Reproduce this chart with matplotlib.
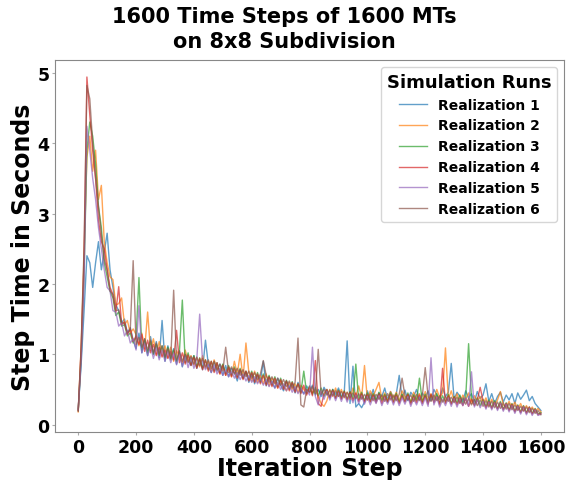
import matplotlib
matplotlib.use('Agg')
import matplotlib.pyplot as plt

# iteration steps (sampled every 10 steps)
steps = list(range(0, 1601, 10))

labels = ['Realization 1', 'Realization 2', 'Realization 3',
          'Realization 4', 'Realization 5', 'Realization 6']

run1 = [0.22, 0.85, 1.6, 2.4, 2.3, 1.95, 2.3, 2.6, 2.2, 2.45,
        2.72, 2.2, 1.95, 1.7, 1.62, 1.45, 1.5, 1.3, 1.38, 1.2,
        1.08, 1.3, 1.02, 1.22, 0.98, 1.25, 1.0, 1.18, 0.95, 1.48,
        0.9, 1.12, 0.95, 1.08, 0.86, 1.05, 0.82, 1.0, 0.92, 0.84,
        0.98, 0.8, 0.92, 0.78, 1.2, 0.85, 0.74, 0.9, 0.76, 0.86,
        0.7, 0.84, 0.68, 0.8, 0.74, 0.62, 0.78, 0.66, 0.75, 0.6,
        0.72, 0.58, 0.7, 0.62, 0.9, 0.55, 0.68, 0.6, 0.52, 0.66,
        0.56, 0.48, 0.62, 0.52, 0.58, 0.45, 0.6, 0.5, 0.44, 0.55,
        0.47, 0.56, 0.42, 0.5, 0.4, 0.53, 0.45, 0.38, 0.5, 0.43,
        0.52, 0.4, 0.46, 1.19, 0.3, 0.83, 0.25, 0.3, 0.24, 0.32,
        0.48, 0.36, 0.5, 0.33, 0.45, 0.4, 0.52, 0.35, 0.47, 0.38,
        0.44, 0.7, 0.38, 0.49, 0.34, 0.46, 0.4, 0.5, 0.36, 0.45,
        0.38, 0.48, 0.34, 0.5, 0.42, 0.36, 0.52, 0.4, 0.46, 0.87,
        0.36, 0.46, 0.4, 0.33, 0.48, 0.38, 0.44, 0.32, 0.47, 0.37,
        0.42, 0.58, 0.33, 0.44, 0.3, 0.4, 0.46, 0.32, 0.42, 0.35,
        0.44, 0.3, 0.45, 0.36, 0.42, 0.49, 0.34, 0.4, 0.3, 0.25,
        0.2]

run2 = [0.18, 1.1, 2.4, 3.8, 4.1, 3.6, 3.9, 3.2, 3.4, 2.6,
        2.3, 2.1, 2.06, 1.7, 1.72, 1.8, 1.42, 1.48, 1.3, 1.36,
        1.28, 1.12, 1.3, 1.08, 1.6, 1.05, 1.22, 1.0, 1.18, 0.98,
        1.12, 0.95, 1.1, 0.9, 1.05, 0.96, 0.88, 1.06, 0.9, 0.98,
        0.85, 0.95, 0.82, 0.98, 0.8, 0.9, 0.76, 0.92, 0.8, 0.72,
        0.85, 0.7, 0.82, 0.68, 0.9, 0.72, 1.0, 0.66, 1.16, 0.74,
        0.62, 0.76, 0.6, 0.7, 0.58, 0.72, 0.55, 0.66, 0.6, 0.52,
        0.62, 0.55, 0.48, 0.6, 0.5, 0.58, 0.46, 0.56, 0.5, 0.44,
        0.52, 0.45, 0.5, 0.4, 0.3, 0.26, 0.34, 0.5, 0.4, 0.52,
        0.4, 0.5, 0.38, 0.46, 0.36, 0.52, 0.4, 0.55, 0.38, 0.84,
        0.35, 0.48, 0.4, 0.5, 0.6, 0.36, 0.45, 0.33, 0.47, 0.38,
        0.46, 0.34, 0.48, 0.37, 0.43, 0.32, 0.46, 0.36, 0.44, 0.33,
        0.47, 0.33, 0.44, 0.36, 0.5, 0.38, 0.45, 1.09, 0.36, 0.48,
        0.33, 0.44, 0.31, 0.42, 0.35, 0.45, 0.3, 0.41, 0.33, 0.4,
        0.3, 0.38, 0.27, 0.36, 0.28, 0.35, 0.47, 0.28, 0.25, 0.33,
        0.24, 0.32, 0.22, 0.3, 0.2, 0.27, 0.19, 0.25, 0.18, 0.23,
        0.18]

run3 = [0.2, 0.95, 2.1, 3.9, 4.3, 4.1, 3.7, 3.1, 2.8, 2.3,
        2.1, 1.9, 1.8, 1.55, 1.6, 1.4, 1.42, 1.26, 1.3, 1.16,
        1.24, 2.09, 1.06, 1.2, 1.02, 1.18, 1.0, 1.14, 0.98, 1.12,
        0.94, 1.1, 0.92, 1.06, 0.9, 1.04, 1.77, 0.88, 1.02, 0.85,
        0.98, 0.82, 0.95, 0.8, 0.92, 0.78, 0.9, 0.76, 0.88, 0.74,
        0.86, 0.72, 0.84, 0.7, 0.82, 0.68, 0.8, 0.66, 0.76, 0.64,
        0.76, 0.62, 0.74, 0.6, 0.72, 0.58, 0.7, 0.56, 0.68, 0.54,
        0.66, 0.52, 0.63, 0.5, 0.61, 0.49, 0.58, 0.46, 0.76, 0.45,
        0.55, 0.43, 0.53, 0.41, 0.52, 0.4, 0.5, 0.39, 0.5, 0.38,
        0.49, 0.37, 0.48, 0.36, 0.47, 0.37, 0.86, 0.35, 0.46, 0.34,
        0.45, 0.33, 0.44, 0.35, 0.46, 0.34, 0.43, 0.32, 0.45, 0.33,
        0.44, 0.32, 0.43, 0.33, 0.45, 0.31, 0.42, 0.34, 0.66, 0.32,
        0.43, 0.31, 0.42, 0.33, 0.44, 0.3, 0.41, 0.32, 0.43, 0.3,
        0.4, 0.31, 0.42, 0.29, 0.39, 1.15, 0.37, 0.28, 0.38, 0.27,
        0.36, 0.26, 0.35, 0.24, 0.34, 0.23, 0.33, 0.22, 0.31, 0.21,
        0.3, 0.19, 0.28, 0.18, 0.27, 0.17, 0.25, 0.16, 0.23, 0.15,
        0.17]

run4 = [0.2, 1.05, 2.3, 4.94, 4.4, 3.9, 3.5, 2.9, 2.6, 2.5,
        2.2, 1.95, 1.85, 1.6, 1.96, 1.42, 1.46, 1.28, 1.36, 1.18,
        1.26, 1.14, 1.28, 1.04, 1.2, 1.02, 1.14, 0.98, 1.1, 0.96,
        1.06, 0.94, 1.04, 0.92, 1.34, 0.88, 1.02, 0.86, 0.99, 0.84,
        0.96, 0.8, 0.94, 0.78, 0.92, 0.76, 0.9, 0.74, 0.88, 0.72,
        0.84, 0.7, 0.82, 0.68, 0.8, 0.66, 0.78, 0.64, 0.76, 0.62,
        0.74, 0.6, 0.72, 0.58, 0.7, 0.56, 0.68, 0.54, 0.66, 0.52,
        0.64, 0.5, 0.62, 0.48, 0.6, 0.46, 0.58, 0.44, 0.56, 0.42,
        0.54, 0.41, 0.91, 0.3, 0.26, 0.44, 0.5, 0.38, 0.49, 0.37,
        0.48, 0.36, 0.47, 0.35, 0.46, 0.34, 0.45, 0.33, 0.44, 0.32,
        0.43, 0.32, 0.42, 0.31, 0.44, 0.3, 0.41, 0.32, 0.43, 0.31,
        0.42, 0.3, 0.41, 0.32, 0.43, 0.29, 0.4, 0.31, 0.42, 0.3,
        0.41, 0.29, 0.43, 0.31, 0.4, 0.28, 0.8, 0.3, 0.41, 0.29,
        0.39, 0.28, 0.38, 0.27, 0.37, 0.26, 0.36, 0.27, 0.35, 0.53,
        0.34, 0.24, 0.33, 0.23, 0.32, 0.22, 0.31, 0.21, 0.3, 0.2,
        0.29, 0.18, 0.27, 0.17, 0.26, 0.16, 0.25, 0.15, 0.22, 0.14,
        0.16]

run5 = [0.21, 0.9, 2.0, 4.24, 3.9, 3.5, 3.2, 2.8, 2.5, 2.2,
        1.95, 1.9, 1.62, 1.6, 1.4, 1.45, 1.26, 1.34, 1.16, 1.22,
        1.06, 1.69, 1.02, 1.16, 0.98, 1.12, 0.94, 1.1, 0.92, 1.06,
        0.9, 1.04, 0.88, 1.02, 0.85, 1.0, 0.83, 0.98, 0.81, 0.95,
        0.8, 0.93, 1.57, 0.9, 0.78, 0.86, 0.74, 0.84, 0.72, 0.8,
        0.7, 0.78, 0.68, 0.76, 0.66, 0.74, 0.64, 0.72, 0.62, 0.7,
        0.6, 0.68, 0.58, 0.66, 0.56, 0.64, 0.54, 0.62, 0.52, 0.6,
        0.5, 0.58, 0.48, 0.56, 0.46, 0.54, 0.44, 0.52, 0.43, 0.5,
        0.42, 1.1, 0.4, 0.28, 0.48, 0.36, 0.47, 0.35, 0.46, 0.34,
        0.45, 0.33, 0.44, 0.32, 0.43, 0.31, 0.42, 0.3, 0.41, 0.29,
        0.4, 0.28, 0.39, 0.3, 0.41, 0.27, 0.38, 0.29, 0.4, 0.28,
        0.39, 0.27, 0.38, 0.29, 0.4, 0.26, 0.37, 0.28, 0.39, 0.27,
        0.38, 0.26, 0.95, 0.28, 0.39, 0.25, 0.36, 0.27, 0.38, 0.26,
        0.37, 0.25, 0.36, 0.27, 0.38, 0.26, 0.75, 0.25, 0.35, 0.24,
        0.33, 0.22, 0.32, 0.21, 0.31, 0.2, 0.3, 0.19, 0.29, 0.18,
        0.27, 0.16, 0.26, 0.15, 0.25, 0.14, 0.23, 0.13, 0.21, 0.13,
        0.15]

run6 = [0.19, 1.1, 2.5, 4.82, 4.63, 4.0, 3.5, 3.1, 2.7, 2.35,
        2.2, 1.9, 1.85, 1.62, 1.63, 1.45, 1.44, 1.3, 1.35, 2.33,
        1.14, 1.24, 1.1, 1.22, 1.06, 1.2, 1.02, 1.16, 1.0, 1.12,
        0.96, 1.08, 0.94, 1.91, 0.92, 1.04, 0.9, 1.0, 0.88, 0.97,
        0.86, 0.96, 0.84, 0.94, 0.82, 0.92, 0.8, 0.9, 0.78, 0.86,
        0.76, 1.1, 0.74, 0.82, 0.72, 0.8, 0.7, 0.78, 0.68, 0.76,
        0.66, 0.74, 0.64, 0.72, 0.91, 0.7, 0.6, 0.68, 0.58, 0.66,
        0.56, 0.64, 0.54, 0.62, 0.52, 0.6, 1.23, 0.28, 0.25, 0.5,
        0.46, 0.54, 0.44, 1.07, 0.43, 0.5, 0.42, 0.49, 0.41, 0.48,
        0.4, 0.47, 0.39, 0.46, 0.38, 0.45, 0.37, 0.44, 0.36, 0.43,
        0.35, 0.44, 0.34, 0.43, 0.36, 0.42, 0.33, 0.44, 0.35, 0.42,
        0.34, 0.43, 0.66, 0.41, 0.35, 0.42, 0.33, 0.43, 0.34, 0.41,
        0.81, 0.4, 0.33, 0.42, 0.34, 0.41, 0.32, 0.4, 0.33, 0.39,
        0.31, 0.39, 0.3, 0.38, 0.29, 0.37, 0.28, 0.36, 0.27, 0.35,
        0.26, 0.34, 0.25, 0.33, 0.24, 0.32, 0.23, 0.31, 0.22, 0.3,
        0.21, 0.28, 0.2, 0.26, 0.19, 0.25, 0.17, 0.23, 0.16, 0.2,
        0.14]

runs = [run1, run2, run3, run4, run5, run6]

fig, ax = plt.subplots(figsize=(5.68, 4.81), dpi=100)
fig.subplots_adjust(left=0.097, right=0.993, bottom=0.099, top=0.873)

for r, lab in zip(runs, labels):
    ax.plot(steps, r, lw=1, alpha=0.7, label=lab)

# title is centred on the figure, not the axes
fig.suptitle('1600 Time Steps of 1600 MTs\non 8x8 Subdivision', fontsize=15,
             fontweight='bold', y=0.985, linespacing=1.3)
ax.set_xlabel('Iteration Step', fontsize=17, fontweight='bold', labelpad=0)
ax.set_ylabel('Step Time in Seconds', fontsize=17, fontweight='bold', labelpad=2)
ax.set_xticks(range(0, 1601, 200))
ax.set_yticks(range(0, 6))
for t in ax.get_xticklabels() + ax.get_yticklabels():
    t.set_fontweight('bold')
    t.set_fontsize(12.5)
for s in ax.spines.values():
    s.set_color('#888888')
ax.tick_params(color='#aaaaaa', length=2, pad=2)

leg = ax.legend(title='Simulation Runs', loc='upper right',
                prop={'weight': 'bold', 'size': 10})
leg.get_title().set_fontweight('bold')
leg.get_title().set_fontsize(13)

fig.savefig('out.png', dpi=100)
